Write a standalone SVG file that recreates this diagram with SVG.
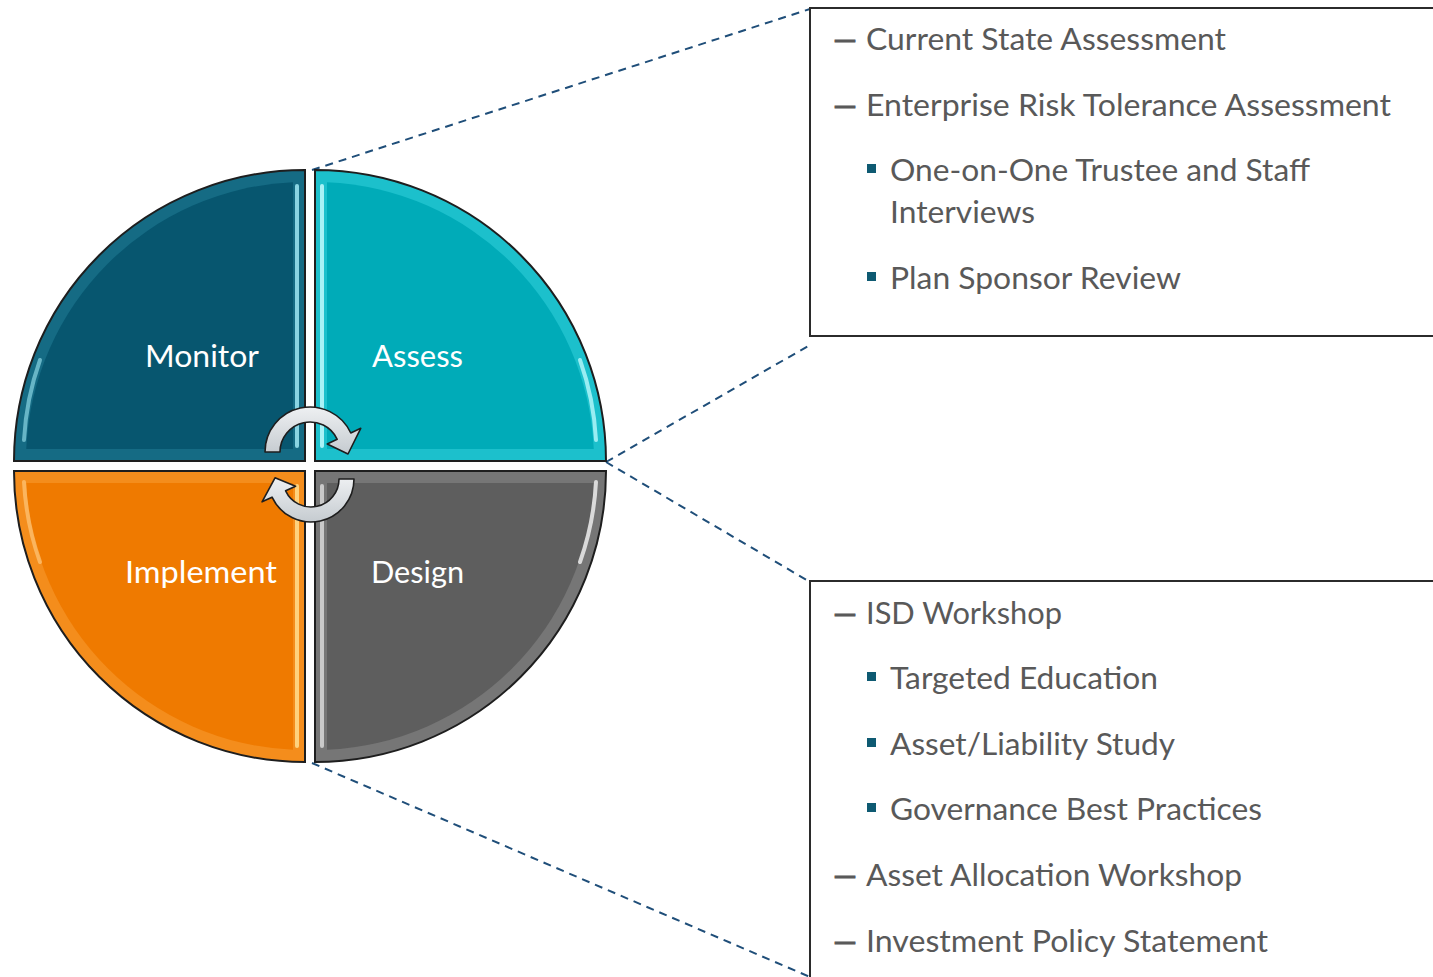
<svg xmlns="http://www.w3.org/2000/svg" width="1433" height="977" viewBox="0 0 1433 977">
<style>
.outline{stroke:#1e1e1e;stroke-width:2;}
.lbl{font-family:"Lato","Liberation Sans",sans-serif;font-size:31px;fill:#ffffff;}
.t{font-family:"Lato","Liberation Sans",sans-serif;font-size:30px;fill:#595959;}
.em{stroke:#595959;stroke-width:0.8;}
.dash{fill:none;stroke:#1f4e79;stroke-width:2;stroke-dasharray:8 6;}
.box{fill:none;stroke:#2b2b2b;stroke-width:2;}
.bullet{fill:#0e5a72;}
.arrow{fill:url(#arrowGrad);stroke:#1e1e1e;stroke-width:1.6;stroke-linejoin:round;}
.hl{fill:none;stroke-width:4;stroke-linecap:round;}
</style>
<defs>
<linearGradient id="arrowGrad" x1="0" y1="0" x2="0" y2="1">
<stop offset="0" stop-color="#eef0f2"/>
<stop offset="1" stop-color="#c5cbd0"/>
</linearGradient>
</defs>
<g id="connectors">
<line class="dash" x1="312" y1="170" x2="810" y2="9"/>
<line class="dash" x1="606" y1="462" x2="810" y2="345"/>
<line class="dash" x1="606" y1="462" x2="810" y2="582"/>
<line class="dash" x1="312" y1="763" x2="810" y2="977"/>
</g>
<g id="monitor">
<path d="M305,461 L14,461 A291,291 0 0 1 305,170 Z" fill="#156b84"/>
<path d="M293,449 L26.26,449 A279,279 0 0 1 293,182.26 Z" fill="#07566f"/>
<path class="hl" d="M297,186 L297,446" stroke="#9fe6f2" opacity="0.85"/>
<path class="hl" d="M24,440 A285,285 0 0 1 40,360" stroke="#9fe6f2" opacity="0.6"/>
<path d="M305,461 L14,461 A291,291 0 0 1 305,170 Z" fill="none" class="outline"/>
<text class="lbl" x="145" y="367" textLength="114" lengthAdjust="spacingAndGlyphs">Monitor</text>
</g>
<g id="assess">
<path d="M315,461 L315,170 A291,291 0 0 1 606,461 Z" fill="#1cc0cc"/>
<path d="M327,449 L327,182.26 A279,279 0 0 1 593.74,449 Z" fill="#00abb8"/>
<path class="hl" d="M322,186 L322,446" stroke="#b9f7fb" opacity="0.9"/>
<path class="hl" d="M596,440 A285,285 0 0 0 580,360" stroke="#b9f7fb" opacity="0.8"/>
<path d="M315,461 L315,170 A291,291 0 0 1 606,461 Z" fill="none" class="outline"/>
<text class="lbl" x="372" y="367" textLength="91" lengthAdjust="spacingAndGlyphs">Assess</text>
</g>
<g id="implement">
<path d="M305,471 L305,762 A291,291 0 0 1 14,471 Z" fill="#f48d1c"/>
<path d="M293,483 L293,749.74 A279,279 0 0 1 26.26,483 Z" fill="#ef7a00"/>
<path class="hl" d="M297,486 L297,746" stroke="#ffd98a" opacity="0.9"/>
<path class="hl" d="M24,482 A285,285 0 0 0 40,562" stroke="#ffd08a" opacity="0.6"/>
<path d="M305,471 L305,762 A291,291 0 0 1 14,471 Z" fill="none" class="outline"/>
<text class="lbl" x="125" y="583" textLength="152" lengthAdjust="spacingAndGlyphs">Implement</text>
</g>
<g id="design">
<path d="M315,471 L606,471 A291,291 0 0 1 315,762 Z" fill="#767676"/>
<path d="M327,483 L593.74,483 A279,279 0 0 1 327,749.74 Z" fill="#5e5e5e"/>
<path class="hl" d="M322,486 L322,746" stroke="#d8d8d8" opacity="0.85"/>
<path class="hl" d="M596,482 A285,285 0 0 1 580,562" stroke="#f4f4f4" opacity="0.8"/>
<path d="M315,471 L606,471 A291,291 0 0 1 315,762 Z" fill="none" class="outline"/>
<text class="lbl" x="371" y="583" textLength="93" lengthAdjust="spacingAndGlyphs">Design</text>
</g>
<g id="cycle-arrows">
<path class="arrow" d="M265,452 A45,45 0 0 1 350.78,432.98 L360.75,428.33 L348,454 L327.22,443.97 L337.19,439.32 A30,30 0 0 0 280,452 Z"/>
<path class="arrow" d="M354,479 A43,43 0 0 1 272.03,497.17 L262.06,501.82 L275.02,477.78 L295.60,486.19 L285.62,490.83 A28,28 0 0 0 339,479 Z"/>
</g>
<g id="assess-box">
<path class="box" d="M1434,8 L810,8 L810,336 L1434,336"/>
<text class="t" y="50"><tspan class="em" x="833" textLength="24" lengthAdjust="spacingAndGlyphs">—</tspan><tspan x="866" textLength="360" lengthAdjust="spacingAndGlyphs">Current State Assessment</tspan></text>
<text class="t" y="116"><tspan class="em" x="833" textLength="24" lengthAdjust="spacingAndGlyphs">—</tspan><tspan x="866" textLength="525" lengthAdjust="spacingAndGlyphs">Enterprise Risk Tolerance Assessment</tspan></text>
<rect class="bullet" x="867" y="164" width="9" height="9"/>
<text class="t" x="890" y="181" textLength="420" lengthAdjust="spacingAndGlyphs">One-on-One Trustee and Staff</text>
<text class="t" x="890" y="223" textLength="145" lengthAdjust="spacingAndGlyphs">Interviews</text>
<rect class="bullet" x="867" y="272" width="9" height="9"/>
<text class="t" x="890" y="289" textLength="291" lengthAdjust="spacingAndGlyphs">Plan Sponsor Review</text>
</g>
<g id="design-box">
<path class="box" d="M1434,581 L810,581 L810,978"/>
<text class="t" y="624"><tspan class="em" x="833" textLength="24" lengthAdjust="spacingAndGlyphs">—</tspan><tspan x="866" textLength="196" lengthAdjust="spacingAndGlyphs">ISD Workshop</tspan></text>
<rect class="bullet" x="867" y="672" width="9" height="9"/>
<text class="t" x="890" y="689" textLength="268" lengthAdjust="spacingAndGlyphs">Targeted Education</text>
<rect class="bullet" x="867" y="738" width="9" height="9"/>
<text class="t" x="890" y="755" textLength="285" lengthAdjust="spacingAndGlyphs">Asset/Liability Study</text>
<rect class="bullet" x="867" y="803" width="9" height="9"/>
<text class="t" x="890" y="820" textLength="372" lengthAdjust="spacingAndGlyphs">Governance Best Practices</text>
<text class="t" y="886"><tspan class="em" x="833" textLength="24" lengthAdjust="spacingAndGlyphs">—</tspan><tspan x="866" textLength="376" lengthAdjust="spacingAndGlyphs">Asset Allocation Workshop</tspan></text>
<text class="t" y="952"><tspan class="em" x="833" textLength="24" lengthAdjust="spacingAndGlyphs">—</tspan><tspan x="866" textLength="402" lengthAdjust="spacingAndGlyphs">Investment Policy Statement</tspan></text>
</g>
</svg>
